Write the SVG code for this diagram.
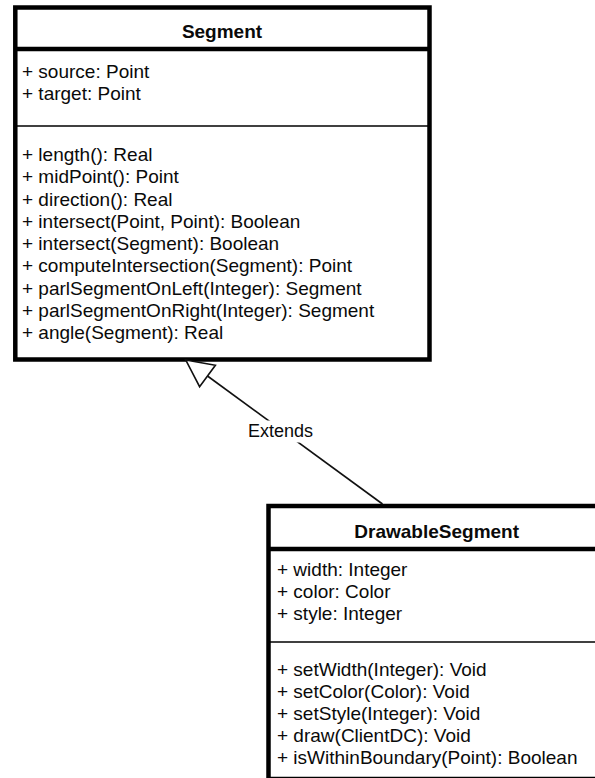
<svg xmlns="http://www.w3.org/2000/svg" width="595" height="778" viewBox="0 0 595 778">
<style>
.box{fill:#fff;stroke:#000;stroke-width:4.5}
.thick{stroke:#000;stroke-width:4.3}
.thin{stroke:#000;stroke-width:1.6}
text{font-family:"Liberation Sans",Arial,sans-serif;font-size:19px;fill:#0a0a0a}
.title{font-weight:bold;text-anchor:middle}
.lbl{font-size:18px;text-anchor:middle}
.conn{stroke:#111;stroke-width:1.6;fill:none}
</style>
<rect width="595" height="778" fill="#fff"/>
<g id="Segment">
<rect class="box" x="15.3" y="7.5" width="414.2" height="352"/>
<line class="thick" x1="15.3" y1="49" x2="429.5" y2="49"/>
<line class="thin" x1="15.3" y1="126" x2="429.5" y2="126"/>
<text class="title" x="222" y="38">Segment</text>
<text x="22" y="78">+ source: Point</text>
<text x="22" y="100">+ target: Point</text>
<text x="22" y="161">+ length(): Real</text>
<text x="22" y="183.25">+ midPoint(): Point</text>
<text x="22" y="205.5">+ direction(): Real</text>
<text x="22" y="227.75">+ intersect(Point, Point): Boolean</text>
<text x="22" y="250">+ intersect(Segment): Boolean</text>
<text x="22" y="272.25">+ computeIntersection(Segment): Point</text>
<text x="22" y="294.5">+ parlSegmentOnLeft(Integer): Segment</text>
<text x="22" y="316.75">+ parlSegmentOnRight(Integer): Segment</text>
<text x="22" y="339">+ angle(Segment): Real</text>
</g>
<g id="DrawableSegment">
<rect class="box" x="268.5" y="506" width="337" height="273"/>
<line class="thick" x1="268.5" y1="549" x2="605" y2="549"/>
<line class="thin" x1="268.5" y1="642" x2="605" y2="642"/>
<text class="title" x="436.7" y="538">DrawableSegment</text>
<text x="277" y="576">+ width: Integer</text>
<text x="277" y="598">+ color: Color</text>
<text x="277" y="620">+ style: Integer</text>
<text x="277" y="676">+ setWidth(Integer): Void</text>
<text x="277" y="698">+ setColor(Color): Void</text>
<text x="277" y="720">+ setStyle(Integer): Void</text>
<text x="277" y="742">+ draw(ClientDC): Void</text>
<text x="277" y="764">+ isWithinBoundary(Point): Boolean</text>
</g>
<g id="connectors">
<line class="conn" x1="207.5" y1="376" x2="382.5" y2="504"/>
<polygon class="conn" style="fill:#fff" points="185.8,360 215.4,365.3 199.6,386.7"/>
<rect x="248" y="420.5" width="65" height="22" fill="#fff"/>
<text class="lbl" x="280.5" y="437">Extends</text>
</g>
</svg>
